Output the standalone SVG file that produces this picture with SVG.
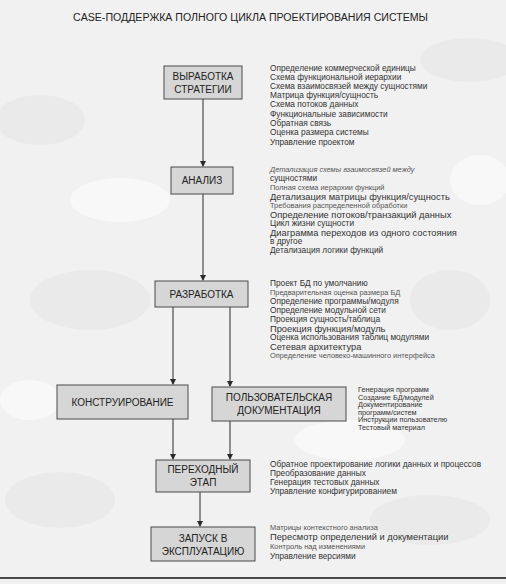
<svg xmlns="http://www.w3.org/2000/svg" width="506" height="584" viewBox="0 0 506 584">
<style>
  .bg { fill: #f1f1f1; }
  .blob { fill: #eaeaea; }
  .blob2 { fill: #f8f8f8; }
  .box rect { fill: #d6d6d6; stroke: #4a4a4a; stroke-width: 1; }
  .box text { font-family: "Liberation Sans", Arial, sans-serif; font-size: 10px; fill: #222; text-anchor: middle; }
  .list text { font-family: "Liberation Sans", Arial, sans-serif; font-size: 8.3px; fill: #333; }
  .list .big { font-size: 9.3px; }
  .list .sm { font-size: 7.4px; fill: #555; }
  .list .tiny { font-size: 7.3px; }
  .title { font-family: "Liberation Sans", Arial, sans-serif; font-size: 10px; fill: #222; }
  .conn line { stroke: #2a2a2a; stroke-width: 1; fill: none; }
</style>
<defs>
  <marker id="ah" markerWidth="6" markerHeight="6" refX="5" refY="3" orient="auto" markerUnits="userSpaceOnUse">
    <path d="M0,0 L6,3 L0,6 Z" fill="#2a2a2a"/>
  </marker>
</defs>
<rect class="bg" x="0" y="0" width="506" height="584"/>
<g id="background-pattern">
  <ellipse class="blob" cx="40" cy="120" rx="45" ry="25"/>
  <ellipse class="blob" cx="470" cy="60" rx="50" ry="22"/>
  <ellipse class="blob" cx="90" cy="300" rx="60" ry="30"/>
  <ellipse class="blob" cx="450" cy="300" rx="40" ry="30"/>
  <ellipse class="blob" cx="60" cy="500" rx="55" ry="28"/>
  <ellipse class="blob" cx="430" cy="520" rx="60" ry="25"/>
  <ellipse class="blob2" cx="120" cy="200" rx="50" ry="22"/>
  <ellipse class="blob2" cx="350" cy="440" rx="55" ry="20"/>
  <ellipse class="blob2" cx="30" cy="400" rx="30" ry="20"/>
  <ellipse class="blob2" cx="480" cy="180" rx="30" ry="25"/>
</g>
<text class="title" x="73" y="21" textLength="355" lengthAdjust="spacingAndGlyphs">CASE-ПОДДЕРЖКА ПОЛНОГО ЦИКЛА ПРОЕКТИРОВАНИЯ СИСТЕМЫ</text>

<g id="connectors" class="conn">
  <line x1="203" y1="99" x2="203" y2="166" marker-end="url(#ah)"/>
  <line x1="203" y1="194" x2="203" y2="280" marker-end="url(#ah)"/>
  <line x1="173" y1="307" x2="173" y2="384" marker-end="url(#ah)"/>
  <line x1="230" y1="307" x2="230" y2="386" marker-end="url(#ah)"/>
  <line x1="173" y1="419" x2="173" y2="459" marker-end="url(#ah)"/>
  <line x1="230" y1="421" x2="230" y2="459" marker-end="url(#ah)"/>
  <line x1="200" y1="492" x2="200" y2="526" marker-end="url(#ah)"/>
</g>

<g id="node-strategy" class="box">
  <rect x="164" y="66" width="78" height="33"/>
  <text x="203" y="80">ВЫРАБОТКА</text>
  <text x="203" y="93">СТРАТЕГИИ</text>
</g>
<g id="list-strategy" class="list">
  <text x="270" y="71">Определение коммерческой единицы</text>
  <text x="270" y="80">Схема функциональной иерархии</text>
  <text x="270" y="89">Схема взаимосвязей между сущностями</text>
  <text x="270" y="98">Матрица функция/сущность</text>
  <text x="270" y="107">Схема потоков данных</text>
  <text x="270" y="116.5">Функциональные зависимости</text>
  <text x="270" y="126">Обратная связь</text>
  <text x="270" y="135">Оценка размера системы</text>
  <text x="270" y="144.5">Управление проектом</text>
</g>

<g id="node-analysis" class="box">
  <rect x="171" y="167" width="62" height="27"/>
  <text x="202" y="184">АНАЛИЗ</text>
</g>
<g id="list-analysis" class="list">
  <text x="270" y="172" class="sm" font-style="italic">Детализация схемы взаимосвязей между</text>
  <text x="270" y="181">сущностями</text>
  <text x="270" y="190" class="sm">Полная схема иерархии функций</text>
  <text x="270" y="199.5" class="big">Детализация матрицы функция/сущность</text>
  <text x="270" y="208" class="sm">Требования распределенной обработки</text>
  <text x="270" y="217.5" class="big">Определение потоков/транзакций данных</text>
  <text x="270" y="226">Цикл жизни сущности</text>
  <text x="270" y="235.5" class="big">Диаграмма переходов из одного состояния</text>
  <text x="270" y="244">в другое</text>
  <text x="270" y="253">Детализация логики функций</text>
</g>

<g id="node-development" class="box">
  <rect x="155" y="281" width="93" height="26"/>
  <text x="201.5" y="298">РАЗРАБОТКА</text>
</g>
<g id="list-development" class="list">
  <text x="270" y="286">Проект БД по умолчанию</text>
  <text x="270" y="295" class="sm">Предварительная оценка размера БД</text>
  <text x="270" y="304">Определение программы/модуля</text>
  <text x="270" y="313">Определение модульной сети</text>
  <text x="270" y="322">Проекция сущность/таблица</text>
  <text x="270" y="331.5" class="big">Проекция функция/модуль</text>
  <text x="270" y="340">Оценка использования таблиц модулями</text>
  <text x="270" y="349.5" class="big">Сетевая архитектура</text>
  <text x="270" y="358" class="sm">Определение человеко-машинного интерфейса</text>
</g>

<g id="node-construction" class="box">
  <rect x="57" y="385" width="131" height="34"/>
  <text x="122.5" y="406">КОНСТРУИРОВАНИЕ</text>
</g>

<g id="node-userdoc" class="box">
  <rect x="212" y="387" width="134" height="34"/>
  <text x="279" y="401">ПОЛЬЗОВАТЕЛЬСКАЯ</text>
  <text x="279" y="414">ДОКУМЕНТАЦИЯ</text>
</g>
<g id="list-userdoc" class="list">
  <text x="358" y="392" class="tiny">Генерация программ</text>
  <text x="358" y="399.5" class="tiny">Создание БД/модулей</text>
  <text x="358" y="407" class="tiny">Документирование</text>
  <text x="358" y="414.5" class="tiny">программ/систем</text>
  <text x="358" y="422" class="tiny">Инструкции пользователю</text>
  <text x="358" y="429.5" class="tiny">Тестовый материал</text>
</g>

<g id="node-transition" class="box">
  <rect x="156" y="460" width="94" height="32"/>
  <text x="203" y="473">ПЕРЕХОДНЫЙ</text>
  <text x="203" y="486">ЭТАП</text>
</g>
<g id="list-transition" class="list">
  <text x="270" y="467">Обратное проектирование логики данных и процессов</text>
  <text x="270" y="476">Преобразование данных</text>
  <text x="270" y="485">Генерация тестовых данных</text>
  <text x="270" y="494">Управление конфигурированием</text>
</g>

<g id="node-launch" class="box">
  <rect x="151" y="527" width="104" height="34"/>
  <text x="203" y="542">ЗАПУСК В</text>
  <text x="203" y="555">ЭКСПЛУАТАЦИЮ</text>
</g>
<g id="list-launch" class="list">
  <text x="270" y="530" class="sm">Матрицы контекстного анализа</text>
  <text x="270" y="540" class="big">Пересмотр определений и документации</text>
  <text x="270" y="549" class="sm">Контроль над изменениями</text>
  <text x="270" y="559">Управление версиями</text>
</g>

<rect x="0" y="577" width="506" height="2" fill="#4a4a4a"/>
</svg>
